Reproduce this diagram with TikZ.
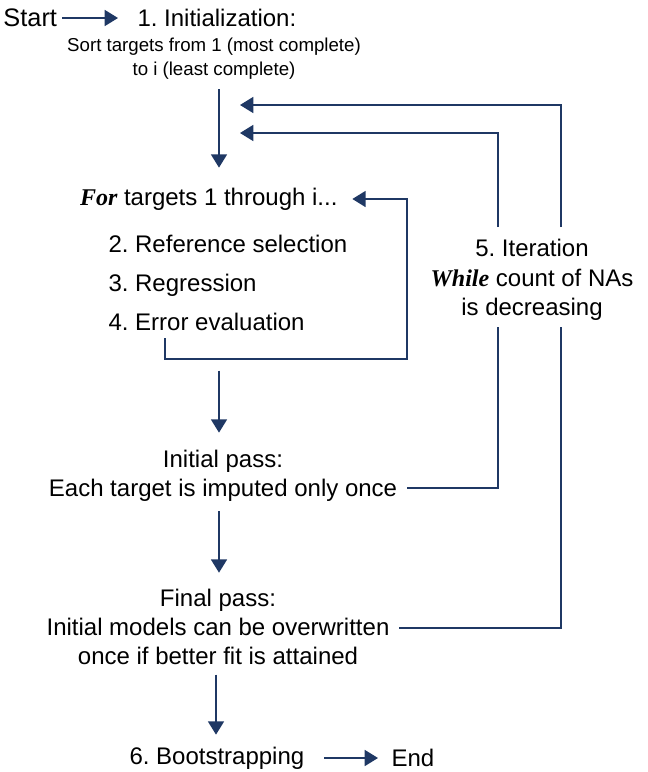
\documentclass[tikz,border=0pt]{standalone}
\usepackage{fontspec}
\setmainfont{Liberation Sans}
\newfontfamily\timesfont{Liberation Serif}
\usetikzlibrary{arrows.meta}
\definecolor{navy}{RGB}{31,56,100}
\newcommand{\kw}[1]{{\timesfont\bfseries\itshape #1}}
\frenchspacing
\tikzset{every picture/.style={line width=0.75pt}}

\begin{document}
\begin{tikzpicture}[x=0.75pt,y=0.75pt,yscale=-1,xscale=1,
  flow/.style={draw=navy, line width=1.3pt, -{Triangle[length=10pt,width=12pt]}},
  link/.style={draw=navy, line width=1.3pt},
  txt/.style={inner sep=0.75pt, font=\fontsize{18}{22}\selectfont, align=center},
  small/.style={inner sep=0.75pt, font=\fontsize{14}{18}\selectfont, align=center}]
\useasboundingbox (0,0) rectangle (647,772);

% Text Node
\node (start) [txt, anchor=west, font=\fontsize{19}{22}\selectfont] at (2,18) {Start};
% Text Node
\node (init) [txt, anchor=west] at (136,18) {1. Initialization:};
% Text Node
\node (sort) [small] at (214,59) {Sort targets from 1 (most complete)\\to i (least complete)};
% Text Node
\node (forl) [txt, anchor=east] at (339,199) {\kw{For} targets 1 through i...};
% Text Node
\node (steps) [txt, anchor=west, align=left, font=\fontsize{18}{29}\selectfont] at (107,283) {2. Reference selection\\3. Regression\\4. Error evaluation};
% Text Node
\node (iter) [txt] at (532,280) {5. Iteration\\\kw{While} count of NAs\\is decreasing};
% Text Node
\node (pass1) [txt] at (223,476) {Initial pass:\\Each target is imputed only once};
% Text Node
\node (pass2) [txt] at (218,627) {Final pass:\\Initial models can be overwritten\\once if better fit is attained};
% Text Node
\node (boot) [txt, anchor=west] at (128,758) {6. Bootstrapping};
% Text Node
\node (end) [txt, anchor=west] at (390,758) {End};

%Coordinates
\coordinate (col) at (219,0);
\coordinate (lpA) at (165,338);
\coordinate (lpB) at (407,359);
\coordinate (fbA) at (240,105);
\coordinate (fbB) at (240,133);
\coordinate (itL) at (498,227);
\coordinate (itR) at (561,227);
\coordinate (itLb) at (498,327);
\coordinate (itRb) at (561,327);
\coordinate (p1) at (407,488);
\coordinate (p2) at (399,628);

%Straight Lines
\draw [flow, shorten <=3pt, shorten >=13.5pt] (start) -- (init);
%Straight Lines
\draw [flow, shorten <=6pt, shorten >=14pt] (sort.south -| col) -- (forl.north -| col);
%Straight Lines
\draw [flow, shorten <=29pt, shorten >=12pt] (steps.south -| col) -- (pass1.north -| col);
%Straight Lines
\draw [flow, shorten <=6pt, shorten >=11pt] (pass1.south -| col) -- (pass2.north -| col);
%Straight Lines
\draw [flow, shorten <=6pt, shorten >=8pt] ([xshift=-2.25pt]pass2.south -| col) -- ([xshift=-2.25pt]boot.north -| col);
%Straight Lines
\draw [flow, shorten <=14pt, shorten >=9pt] (boot) -- (end);

%Shape: loop
\draw [flow] (lpA) |- (lpB) |- ([xshift=10pt]forl.east);
%Shape: feedback
\draw [flow] (itR) |- (fbA);
\draw [flow] (itL) |- (fbB);
\draw [link] (p1) -| (itLb);
\draw [link] (p2) -| (itRb);

\end{tikzpicture}
\end{document}
